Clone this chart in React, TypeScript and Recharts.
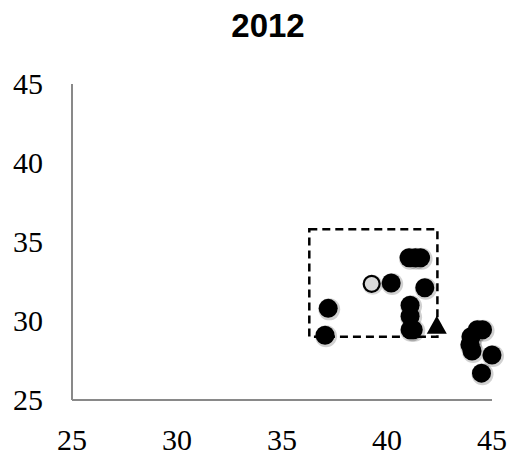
import React from 'react';
import {
  ScatterChart,
  Scatter,
  XAxis,
  YAxis,
  ReferenceArea
} from 'recharts';

const axisTicks = [25, 30, 35, 40, 45];

const dotX = [37.2, 37.05, 40.2, 41.05, 41.35, 41.6, 41.8, 41.1, 41.1, 41.1, 41.25, 44.3, 44.55, 44.0, 43.95, 44.05, 45.0, 44.5];
const dotY = [30.8, 29.1, 32.4, 34.0, 34.0, 34.0, 32.1, 31.0, 30.3, 29.45, 29.45, 29.45, 29.45, 29.0, 28.5, 28.1, 27.85, 26.7];

const hollowX = [39.27];
const hollowY = [32.35];

const triangleX = [42.37];
const triangleY = [29.7];

const boxX = [36.3, 42.4];
const boxY = [29.0, 35.8];

const toPoints = (xs: number[], ys: number[]) => xs.map((x, i) => ({ x, y: ys[i] }));

const dots = toPoints(dotX, dotY);
const hollow = toPoints(hollowX, hollowY);
const triangle = toPoints(triangleX, triangleY);

const serifStyle = { fontFamily: "'Liberation Serif', 'Times New Roman', Times, serif" };

const BlackDot = (props: any) => {
  const { cx, cy } = props;
  return (
    <g>
      <circle cx={cx + 1} cy={cy + 1} r={11} fill="#000" fillOpacity={0.18} />
      <circle cx={cx} cy={cy} r={9.5} fill="#000" />
    </g>
  );
};

const HollowDot = (props: any) => {
  const { cx, cy } = props;
  return (
    <g>
      <circle cx={cx + 1} cy={cy + 1} r={10} fill="#000" fillOpacity={0.15} />
      <circle cx={cx} cy={cy} r={8} fill="#d9d9d9" stroke="#000" strokeWidth={2.2} />
    </g>
  );
};

const Triangle = (props: any) => {
  const { cx, cy } = props;
  const w = 10;
  return (
    <path
      d={`M${cx},${cy - 10} L${cx + w},${cy + 8} L${cx - w},${cy + 8} Z`}
      fill="#000"
    />
  );
};

const XTick = (props: any) => {
  const { x, y, payload } = props;
  return (
    <text x={x} y={y + 20} textAnchor="middle" style={serifStyle} fontSize={30} fill="#000">
      {payload.value}
    </text>
  );
};

const YTick = (props: any) => {
  const { x, y, payload } = props;
  return (
    <text x={x} y={y + 10} textAnchor="end" style={serifStyle} fontSize={30} fill="#000">
      {payload.value}
    </text>
  );
};

export default function App() {
  return (
    <div style={{ position: 'absolute', left: 0, top: 0, width: 514, height: 455, background: '#fff' }}>
      <div
        style={{
          position: 'absolute',
          left: 268,
          top: 7,
          transform: 'translateX(-50%)',
          fontFamily: "'Liberation Sans', Arial, sans-serif",
          fontWeight: 'bold',
          fontSize: 33,
          lineHeight: '38px',
          color: '#000'
        }}
      >
        2012
      </div>
      <ScatterChart width={514} height={455} margin={{ top: 84, right: 22, bottom: 0, left: 0 }}>
        <XAxis
          type="number"
          dataKey="x"
          domain={[25, 45]}
          ticks={axisTicks}
          height={55}
          tickLine={false}
          tickSize={0}
          tickMargin={30}
          stroke="#898989"
          strokeWidth={2}
          tick={<XTick />}
        />
        <YAxis
          type="number"
          dataKey="y"
          domain={[25, 45]}
          ticks={axisTicks}
          width={72}
          tickLine={false}
          tickSize={0}
          tickMargin={29}
          stroke="#898989"
          strokeWidth={2}
          tick={<YTick />}
        />
        <ReferenceArea
          x1={boxX[0]}
          x2={boxX[1]}
          y1={boxY[0]}
          y2={boxY[1]}
          fill="none"
          fillOpacity={0}
          stroke="#000"
          strokeWidth={2.5}
          strokeDasharray="8 5"
        />
        <Scatter data={dots} shape={BlackDot} isAnimationActive={false} />
        <Scatter data={hollow} shape={HollowDot} isAnimationActive={false} />
        <Scatter data={triangle} shape={Triangle} isAnimationActive={false} />
      </ScatterChart>
    </div>
  );
}
